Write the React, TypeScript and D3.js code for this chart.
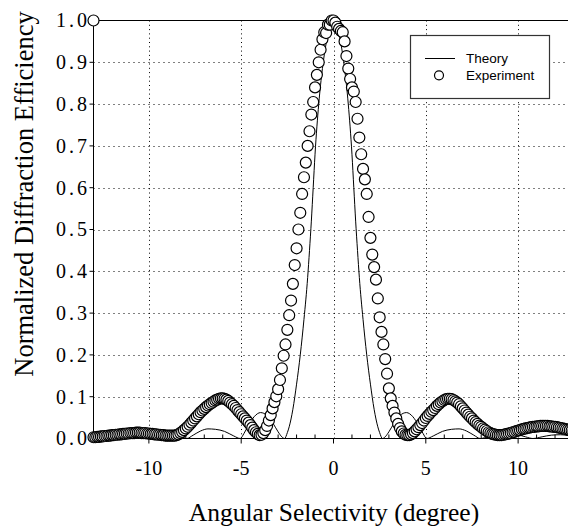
import React from "react";
import * as d3 from "d3";

// Theory curve
const theoryX = [
  -13, -12.8, -12.3, -11.8, -11.3, -10.8, -10.4, -9.9, -9.4, -8.9, -8.4, -7.95,
  -7.6, -7.2, -6.8, -6.4, -5.9, -5.4, -5.05, -4.85, -4.6, -4.3, -3.95, -3.6, -3.3,
  -3.0, -2.8, -2.65, -2.5, -2.4, -2.2, -2.0, -1.8, -1.6, -1.4, -1.3, -1.2, -1.1,
  -1.0, -0.8, -0.6, -0.4, -0.2, 0, 0.2, 0.4, 0.6, 0.8, 1.0, 1.1, 1.2, 1.3, 1.4,
  1.6, 1.8, 2.0, 2.2, 2.4, 2.5, 2.65, 2.8, 3.0, 3.3, 3.6, 3.95, 4.3, 4.6, 4.85,
  5.05, 5.4, 5.9, 6.4, 6.8, 7.2, 7.6, 7.95, 8.4, 8.9, 9.4, 9.9, 10.4, 10.8,
  11.3, 11.8, 12.3, 12.8, 13,
];
const theoryY = [
  0.006, 0.007, 0.009, 0.008, 0.004, 0.0, 0.004, 0.01, 0.013, 0.011, 0.005, 0.0,
  0.008, 0.018, 0.023, 0.022, 0.017, 0.006, 0.0, 0.012, 0.032, 0.052, 0.062, 0.055, 0.038,
  0.016, 0.004, 0.0, 0.014, 0.028, 0.07, 0.13, 0.2, 0.285, 0.385, 0.45, 0.52, 0.6,
  0.68, 0.8, 0.885, 0.945, 0.985, 1.0, 0.985, 0.945, 0.885, 0.8, 0.68, 0.6, 0.52, 0.45, 0.385,
  0.285, 0.2, 0.13, 0.07, 0.028, 0.014, 0.0, 0.004, 0.016, 0.038, 0.055, 0.062, 0.052, 0.032, 0.012,
  0.0, 0.006, 0.017, 0.022, 0.023, 0.018, 0.008, 0.0, 0.005, 0.011, 0.013, 0.01, 0.004, 0.0,
  0.004, 0.008, 0.009, 0.007, 0.006,
];

// Experiment: sampled every 0.1 degree from -13.0 to 13.0
const expStart = -13;
const expStep = 0.1;
const expY = [
  // -13.0 .. -12.1
  0.003, 0.003, 0.004, 0.004, 0.005, 0.005, 0.006, 0.006, 0.007, 0.007,
  // -12.0 .. -11.1
  0.008, 0.008, 0.009, 0.009, 0.010, 0.010, 0.011, 0.011, 0.012, 0.012,
  // -11.0 .. -10.1
  0.013, 0.013, 0.013, 0.014, 0.014, 0.014, 0.013, 0.013, 0.013, 0.012,
  // -10.0 .. -9.1
  0.012, 0.011, 0.011, 0.010, 0.010, 0.009, 0.009, 0.008, 0.008, 0.007,
  // -9.0 .. -8.1
  0.007, 0.007, 0.007, 0.007, 0.007, 0.008, 0.010, 0.013, 0.016, 0.020,
  // -8.0 .. -7.1
  0.024, 0.028, 0.033, 0.038, 0.043, 0.048, 0.053, 0.058, 0.063, 0.067,
  // -7.0 .. -6.1
  0.071, 0.075, 0.079, 0.082, 0.085, 0.088, 0.091, 0.093, 0.095, 0.096,
  // -6.0 .. -5.1
  0.096, 0.095, 0.093, 0.090, 0.086, 0.082, 0.078, 0.073, 0.068, 0.063,
  // -5.0 .. -4.1
  0.058, 0.053, 0.048, 0.043, 0.038, 0.032, 0.026, 0.020, 0.015, 0.011,
  // -4.0 .. -3.1
  0.008, 0.009, 0.013, 0.020, 0.030, 0.043, 0.056, 0.072, 0.087, 0.101,
  // -3.0 .. -2.1
  0.118, 0.140, 0.168, 0.198, 0.225, 0.260, 0.295, 0.330, 0.370, 0.415,
  // -2.0 .. -1.1
  0.455, 0.500, 0.540, 0.585, 0.625, 0.660, 0.700, 0.735, 0.775, 0.805,
  // -1.0 .. -0.1
  0.840, 0.870, 0.900, 0.930, 0.955, 0.972, 0.970, 0.990, 0.990, 1.000,
  // 0.0 .. 0.9
  1.000, 0.995, 0.985, 0.980, 0.975, 0.972, 0.950, 0.915, 0.885, 0.860,
  // 1.0 .. 1.9
  0.840, 0.830, 0.805, 0.765, 0.720, 0.680, 0.645, 0.620, 0.585, 0.530,
  // 2.0 .. 2.9
  0.480, 0.440, 0.410, 0.380, 0.335, 0.290, 0.255, 0.225, 0.190, 0.155,
  // 3.0 .. 3.9
  0.120, 0.096, 0.078, 0.062, 0.048, 0.035, 0.025, 0.017, 0.012, 0.009,
  // 4.0 .. 4.9
  0.008, 0.008, 0.010, 0.013, 0.017, 0.022, 0.027, 0.032, 0.037, 0.043,
  // 5.0 .. 5.9
  0.049, 0.054, 0.059, 0.064, 0.068, 0.073, 0.078, 0.082, 0.086, 0.089,
  // 6.0 .. 6.9
  0.092, 0.094, 0.095, 0.095, 0.094, 0.092, 0.089, 0.086, 0.082, 0.077,
  // 7.0 .. 7.9
  0.072, 0.067, 0.062, 0.057, 0.052, 0.048, 0.043, 0.039, 0.035, 0.031,
  // 8.0 .. 8.9
  0.028, 0.024, 0.021, 0.018, 0.015, 0.013, 0.011, 0.010, 0.009, 0.008,
  // 9.0 .. 9.9
  0.008, 0.008, 0.009, 0.010, 0.011, 0.012, 0.013, 0.015, 0.016, 0.018,
  // 10.0 .. 10.9
  0.019, 0.020, 0.022, 0.023, 0.024, 0.025, 0.026, 0.027, 0.028, 0.028,
  // 11.0 .. 11.9
  0.029, 0.029, 0.030, 0.030, 0.030, 0.030, 0.030, 0.029, 0.029, 0.028,
  // 12.0 .. 12.9
  0.028, 0.027, 0.026, 0.025, 0.024, 0.023, 0.022, 0.021, 0.020, 0.019,
  // 13.0
  0.018,
];
// stray experiment marker at the top-left corner
const strayX = [-13];
const strayY = [1.0];

const xMajorTicks = [-10, -5, 0, 5, 10];
const xMinorTicks = [-12, -11, -9, -8, -7, -6, -4, -3, -2, -1, 1, 2, 3, 4, 6, 7, 8, 9, 11, 12];
const yTicks = [0, 0.1, 0.2, 0.3, 0.4, 0.5, 0.6, 0.7, 0.8, 0.9, 1.0];
const yGrid = [0.1, 0.2, 0.3, 0.4, 0.5, 0.6, 0.7, 0.8, 0.9];

const W = 568;
const H = 526;

export default function App() {
  const x = d3.scaleLinear().domain([-13, 13]).range([93.5, 573.5]);
  const y = d3.scaleLinear().domain([0, 1]).range([438.5, 20.5]);
  const serif = "'Liberation Serif', 'Times New Roman', serif";
  const sans = "'Liberation Sans', Arial, sans-serif";

  const theoryPts: [number, number][] = theoryX.map((v, i) => [v, theoryY[i]]);
  const line = d3
    .line<[number, number]>()
    .x((d) => x(d[0]))
    .y((d) => y(d[1]))
    .curve(d3.curveMonotoneX);

  const expPts = expY.map((v, i) => ({ xv: expStart + i * expStep, yv: v }));

  const x0 = x(-13);
  const yBase = y(0);
  const yTop = y(1);
  const R = 5.5;

  return (
    <svg
      width={W}
      height={H}
      style={{ position: "absolute", left: 0, top: 0, background: "#fff" }}
    >
      <rect x={0} y={0} width={W} height={H} fill="#fff" />
      {/* grid */}
      {yGrid.map((t) => (
        <line
          key={"gy" + t}
          x1={x0}
          x2={W}
          y1={Math.round(y(t)) + 0.5}
          y2={Math.round(y(t)) + 0.5}
          stroke="#000"
          strokeWidth={1}
          strokeDasharray="1,4"
        />
      ))}
      {xMajorTicks.map((t) => (
        <line
          key={"gx" + t}
          x1={Math.round(x(t)) + 0.5}
          x2={Math.round(x(t)) + 0.5}
          y1={yTop}
          y2={yBase}
          stroke="#000"
          strokeWidth={1}
          strokeDasharray="1,3.3"
        />
      ))}
      {/* top frame */}
      <line x1={x0} x2={W} y1={yTop} y2={yTop} stroke="#000" strokeWidth={1} />
      {/* axes */}
      <line x1={x0} x2={x0} y1={yTop} y2={yBase} stroke="#000" strokeWidth={1} />
      <line x1={x0} x2={W} y1={yBase} y2={yBase} stroke="#000" strokeWidth={1} />
      {yTicks.map((t) => (
        <g key={"yt" + t}>
          <line x1={x0 - 4} x2={x0} y1={y(t)} y2={y(t)} stroke="#000" strokeWidth={1} />
          <text
            x={90}
            y={y(t) + 6.8}
            textAnchor="end"
            fontFamily={serif}
            fontSize={20}
            letterSpacing={3}
            fill="#000"
          >
            {t.toFixed(1)}
          </text>
        </g>
      ))}
      {xMajorTicks.map((t) => (
        <g key={"xt" + t}>
          <line x1={x(t)} x2={x(t)} y1={yBase} y2={yBase + 5} stroke="#000" strokeWidth={1} />
          <text
            x={x(t)}
            y={475}
            textAnchor="middle"
            fontFamily={serif}
            fontSize={20}
            fill="#000"
          >
            {t}
          </text>
        </g>
      ))}
      {xMinorTicks.map((t) => (
        <line
          key={"xm" + t}
          x1={x(t)}
          x2={x(t)}
          y1={yBase - 4}
          y2={yBase}
          stroke="#000"
          strokeWidth={1}
        />
      ))}
      {/* theory */}
      <path d={line(theoryPts) || ""} fill="none" stroke="#000" strokeWidth={1} />
      {/* experiment */}
      {expPts.map((p, i) => (
        <circle
          key={"e" + i}
          cx={x(p.xv)}
          cy={y(p.yv)}
          r={R}
          fill="#fff"
          stroke="#000"
          strokeWidth={1.2}
        />
      ))}
      {strayX.map((v, i) => (
        <circle
          key={"s" + i}
          cx={x(v)}
          cy={y(strayY[i])}
          r={R}
          fill="#fff"
          stroke="#000"
          strokeWidth={1.2}
        />
      ))}
      {/* legend */}
      <rect x={410.5} y={35.5} width={139} height={63} fill="#fff" stroke="#333" strokeWidth={1.2} />
      <line x1={425} x2={455} y1={58.5} y2={58.5} stroke="#000" strokeWidth={1} />
      <text x={466} y={63} fontFamily={sans} fontSize={13.5} fill="#000">
        Theory
      </text>
      <circle cx={439} cy={75.3} r={4.5} fill="#fff" stroke="#000" strokeWidth={1.2} />
      <text x={466} y={80} fontFamily={sans} fontSize={13.5} fill="#000">
        Experiment
      </text>
      {/* axis titles */}
      <text
        x={334}
        y={520.5}
        textAnchor="middle"
        fontFamily={serif}
        fontSize={25.5}
        fill="#000"
      >
        Angular Selectivity (degree)
      </text>
      <text
        transform={`translate(33,194) rotate(-90)`}
        textAnchor="middle"
        fontFamily={serif}
        fontSize={26.5}
        fill="#000"
      >
        Normalized Diffraction Efficiency
      </text>
    </svg>
  );
}
